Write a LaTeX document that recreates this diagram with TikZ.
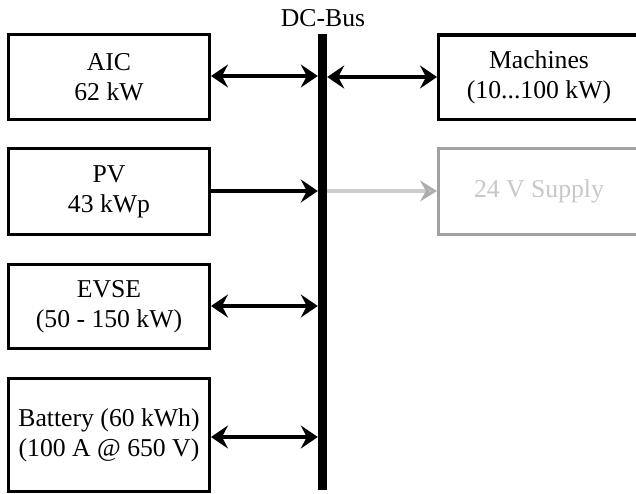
\documentclass[tikz,border=0pt]{standalone}
\usepackage{fontspec}
\setmainfont{Liberation Serif}
\usetikzlibrary{arrows.meta}
\tikzset{
  box/.style={draw=black, line width=3.3pt, minimum width=200.7pt, align=center,
    inner sep=0pt, font=\fontsize{25.7}{30}\selectfont},
  ghostbox/.style={box, draw=black!37, text=black!22},
  link/.style={line width=4.5pt, {Stealth[length=17pt,width=23pt,inset=6pt]}-{Stealth[length=17pt,width=23pt,inset=6pt]}},
  feed/.style={line width=4.5pt, -{Stealth[length=17pt,width=23pt,inset=6pt]}},
  ghostfeed/.style={line width=3.5pt, draw=black!20, -{Stealth[length=17pt,width=21pt,inset=6pt,fill=black!22,color=black!32]}},
  busbar/.style={fill=black, inner sep=0pt, minimum width=9pt, minimum height=456pt},
  buslabel/.style={font=\fontsize{25.7}{30}\selectfont, inner sep=0pt, anchor=base}
}
\begin{document}
\begin{tikzpicture}[x=1pt,y=-1pt]
\useasboundingbox (0,0) rectangle (636,494);
\begin{scope}
\clip (0,0) rectangle (636,494);
% bus
\node[busbar] (bus) at (322.5,262) {};
\node[buslabel] (buslbl) at (323,27) {DC-Bus};
% left boxes
\node[box, minimum height=84.7pt] (aic) at (109,77) {AIC\\62 kW};
\node[box, minimum height=85.7pt] (pv) at (109,191.5) {PV\\43 kWp};
\node[box, minimum height=83.7pt] (evse) at (109,306.5) {EVSE\\(50 - 150 kW)};
\node[box, minimum height=112.7pt] (bat) at (109,435) {Battery (60 kWh)\\(100 A @ 650 V)};
% right boxes
\node[box, minimum height=84.7pt] (mach) at (539,77.5) {Machines\\(10...100 kW)};
\node[ghostbox, minimum height=85.7pt] (sup) at (539,191.5) {24 V Supply};
% connectors
\draw[link] ([yshift=1pt]aic.east) -- ([yshift=1pt]aic.east -| bus.west);
\draw[link] ([yshift=0.5pt]bus.east |- mach.west) -- ([yshift=0.5pt]mach.west);
\draw[feed] ([yshift=0.5pt]pv.east) -- ([yshift=0.5pt]pv.east -| bus.west);
\draw[ghostfeed] ([yshift=0.5pt]bus.east |- sup.west) -- ([yshift=0.5pt]sup.west);
\draw[link] ([yshift=0.5pt]evse.east) -- ([yshift=0.5pt]evse.east -| bus.west);
\draw[link] ([yshift=-2pt]bat.east) -- ([yshift=-2pt]bat.east -| bus.west);
\end{scope}
\end{tikzpicture}
\end{document}
